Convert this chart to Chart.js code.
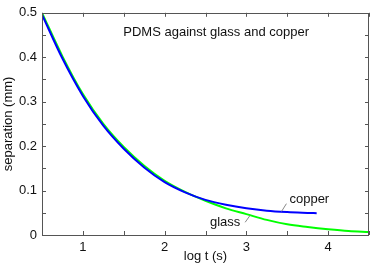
<!DOCTYPE html>
<html>
<head>
<meta charset="utf-8">
<script src="https://cdn.jsdelivr.net/npm/chart.js@4.4.1/dist/chart.umd.min.js"></script>
<style>
  html, body { margin: 0; padding: 0; background: #fff; }
  #grafico { display: block; }
</style>
</head>
<body>
<canvas id="grafico" width="374" height="264"></canvas>
<script>
// valores (log t em s, separacao em mm)
const tempoVidro = [0.5, 0.75, 1.0, 1.25, 1.5, 1.75, 2.0, 2.25, 2.5, 2.75, 3.0, 3.25, 3.5, 3.75, 4.0, 4.25, 4.5]
const vidro = [0.500, 0.402, 0.317, 0.250, 0.198, 0.156, 0.122, 0.097, 0.077, 0.060, 0.047, 0.034, 0.024, 0.018, 0.013, 0.009, 0.007]

const tempoCobre = [0.5, 0.75, 1.0, 1.25, 1.5, 1.75, 2.0, 2.25, 2.5, 2.75, 3.0, 3.25, 3.5, 3.75, 3.86]
const cobre = [0.496, 0.397, 0.313, 0.246, 0.194, 0.152, 0.119, 0.096, 0.079, 0.068, 0.060, 0.0545, 0.0515, 0.0497, 0.049]

const ticksX = [0.5, 1, 1.5, 2, 2.5, 3, 3.5, 4, 4.5]
const ticksY = [0, 0.05, 0.1, 0.15, 0.2, 0.25, 0.3, 0.35, 0.4, 0.45, 0.5]

const titulo = 'PDMS against glass and copper'
const tituloX = 'log t (s)'
const tituloY = 'separation (mm)'
// rotulos das curvas: texto, posicao do texto, linha de chamada
const rotulos = [
  { texto: 'copper', x: 3.77, y: 0.079, linha: [3.43, 0.053, 3.49, 0.0705] },
  { texto: 'glass', x: 2.74, y: 0.0286, linha: [2.985, 0.0286, 3.045, 0.044] }
]

const fonte = "'Liberation Sans', Arial, sans-serif"
const corEixo = '#555'

function juntaPontos(xs, ys) {
  return xs.map((x, i) => ({ x: x, y: ys[i] }))
}

// desenha a caixa do grafico com as marcas para dentro e os textos
const caixa = {
  id: 'caixa',
  afterDatasetsDraw(chart) {
    const ctx = chart.ctx
    const a = chart.chartArea
    const sx = chart.scales.x
    const sy = chart.scales.y
    const t = 4
    ctx.save()
    ctx.strokeStyle = corEixo
    ctx.lineWidth = 1
    ctx.beginPath()
    ticksX.forEach((v) => {
      const p = Math.round(sx.getPixelForValue(v)) + 0.5
      ctx.moveTo(p, a.bottom); ctx.lineTo(p, a.bottom - t)
      ctx.moveTo(p, a.top); ctx.lineTo(p, a.top + t)
    })
    ticksY.forEach((v) => {
      const p = Math.round(sy.getPixelForValue(v)) + 0.5
      ctx.moveTo(a.left, p); ctx.lineTo(a.left + t, p)
      ctx.moveTo(a.right, p); ctx.lineTo(a.right - t, p)
    })
    ctx.stroke()
    ctx.strokeRect(Math.round(a.left) + 0.5, Math.round(a.top) + 0.5, Math.round(a.right - a.left) - 1, Math.round(a.bottom - a.top))

    ctx.fillStyle = '#111'
    ctx.font = '13px ' + fonte
    ctx.textAlign = 'center'
    ctx.textBaseline = 'middle'
    ctx.fillText(titulo, sx.getPixelForValue(2.63), sy.getPixelForValue(0.456))

    rotulos.forEach((r) => {
      ctx.fillText(r.texto, sx.getPixelForValue(r.x), sy.getPixelForValue(r.y))
      ctx.strokeStyle = '#888'
      ctx.beginPath()
      ctx.moveTo(sx.getPixelForValue(r.linha[0]), sy.getPixelForValue(r.linha[1]))
      ctx.lineTo(sx.getPixelForValue(r.linha[2]), sy.getPixelForValue(r.linha[3]))
      ctx.stroke()
    })

    // titulos dos eixos
    ctx.fillText(tituloX, (a.left + a.right) / 2, 256)
    ctx.translate(8, (a.top + a.bottom) / 2)
    ctx.rotate(-Math.PI / 2)
    ctx.fillText(tituloY, 0, 0)
    ctx.restore()
  }
}

const grafico = new Chart(document.getElementById('grafico'), {
  type: 'line',
  data: {
    datasets: [{
      label: 'copper',
      data: juntaPontos(tempoCobre, cobre),
      borderColor: '#0000ff',
      borderWidth: 2,
      pointRadius: 0,
      cubicInterpolationMode: 'monotone'
    }, {
      label: 'glass',
      data: juntaPontos(tempoVidro, vidro),
      borderColor: '#00ff00',
      borderWidth: 2,
      pointRadius: 0,
      cubicInterpolationMode: 'monotone'
    }]
  },
  options: {
    responsive: false,
    animation: false,
    devicePixelRatio: 1,
    layout: { padding: { top: 8, right: 2, left: 0, bottom: 0 } },
    plugins: { legend: { display: false }, tooltip: { enabled: false } },
    scales: {
      x: {
        type: 'linear',
        min: 0.5,
        max: 4.5,
        afterFit: (s) => { s.height = 29 },
        afterBuildTicks: (s) => { s.ticks = ticksX.map((v) => ({ value: v })) },
        grid: { display: false, drawTicks: false },
        border: { display: false },
        ticks: {
          padding: 5,
          color: '#111',
          font: { family: fonte, size: 13 },
          maxRotation: 0,
          autoSkip: false,
          callback: (v) => Number.isInteger(v) ? String(v) : ''
        }
      },
      y: {
        min: 0,
        max: 0.5,
        afterFit: (s) => { s.width = 42 },
        afterBuildTicks: (s) => { s.ticks = ticksY.map((v) => ({ value: v })) },
        grid: { display: false, drawTicks: false },
        border: { display: false },
        ticks: {
          padding: 5,
          color: '#111',
          font: { family: fonte, size: 13 },
          autoSkip: false,
          callback: (v) => (Math.round(v * 100) % 10 === 0) ? String(Math.round(v * 10) / 10) : ''
        }
      }
    }
  },
  plugins: [caixa]
})
</script>
</body>
</html>
